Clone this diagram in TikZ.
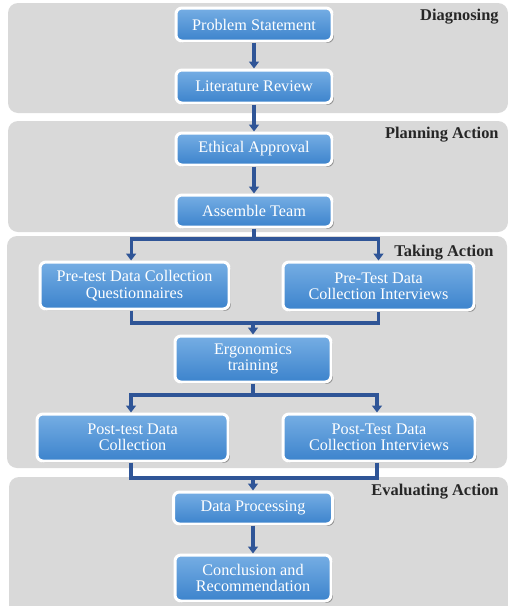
\documentclass[tikz,border=0pt]{standalone}
\usepackage{fontspec}
\setmainfont{Liberation Serif}
\usetikzlibrary{arrows.meta,shadows}
\definecolor{panelgray}{HTML}{D9D9D9}
\definecolor{boxtop}{HTML}{76AEE4}
\definecolor{boxbot}{HTML}{3C83CC}
\definecolor{arrowblue}{HTML}{2F5597}
\begin{document}
\begin{tikzpicture}[x=0.5pt,y=-0.5pt,
  panel/.style={fill=panelgray, rounded corners=5pt},
  stepbox/.style={draw=white, line width=1.5pt, rounded corners=3pt,
    top color=boxtop, bottom color=boxbot, text=white, align=center,
    font=\fontsize{8.1}{8.2}\selectfont, inner sep=1pt,
    drop shadow={shadow xshift=0.9pt, shadow yshift=-0.9pt, fill=black, opacity=0.35}},
  phase/.style={font=\bfseries\fontsize{8.2}{9}\selectfont, anchor=east, inner sep=0pt, text=black!85},
  flow/.style={draw=arrowblue, line width=1.6pt, -{Triangle[width=5pt,length=3.5pt]}},
  link/.style={draw=arrowblue, line width=1.6pt}]
\clip (0,0) rectangle (508,606);
% panels
\fill[panel] (8,3) rectangle (508,113);
\fill[panel] (8,121) rectangle (508,232);
\fill[panel] (7,236) rectangle (507,468);
\fill[panel] (9,477) rectangle (508,625);
% phase labels
\node[phase] (l1) at (499,17) {Diagnosing};
\node[phase] (l2) at (499,135) {Planning Action};
\node[phase] (l3) at (494,253) {Taking Action};
\node[phase] (l4) at (499,492) {Evaluating Action};
% boxes
\node[stepbox, minimum width=78pt, minimum height=16.5pt] (ps) at (254,24.5) {Problem Statement};
\node[stepbox, minimum width=78pt, minimum height=16.5pt] (lr) at (254,86.5) {Literature Review};
\node[stepbox, minimum width=78pt, minimum height=16pt] (ea) at (254,149) {Ethical Approval};
\node[stepbox, minimum width=78pt, minimum height=16pt] (at) at (254,211) {Assemble Team};
\node[stepbox, minimum width=94.5pt, minimum height=23.5pt] (pq) at (134.5,285.5) {Pre-test Data Collection\\Questionnaires};
\node[stepbox, minimum width=95.5pt, minimum height=24pt] (pi) at (378.5,286) {Pre-Test Data\\Collection Interviews};
\node[stepbox, minimum width=78pt, minimum height=23pt] (et) at (253,359) {Ergonomics\\training};
\node[stepbox, minimum width=95.5pt, minimum height=23.5pt] (pd) at (132.5,437.5) {Post-test Data\\Collection};
\node[stepbox, minimum width=96pt, minimum height=23.5pt] (pdi) at (379,437.5) {Post-Test Data\\Collection Interviews};
\node[stepbox, minimum width=79.5pt, minimum height=16pt] (dp) at (253,508) {Data Processing};
\node[stepbox, minimum width=78pt, minimum height=23pt] (cr) at (253,578) {Conclusion and\\Recommendation};
% junctions
\coordinate (j1) at (254,239);
\coordinate (j2) at (253,323);
\coordinate (j3) at (253,395);
\coordinate (j4) at (253,478);
% connectors
\draw[flow] (ps) -- (lr);
\draw[flow] (lr) -- (ea);
\draw[flow] (ea) -- (at);
\draw[link] (at) -- (j1);
\draw[flow] (j1) -| ([xshift=-1.7pt]pq.north);
\draw[flow] (j1) -| (pi.north);
\draw[link] ([xshift=-1.7pt]pq.south) |- (j2);
\draw[link] (pi.south) |- (j2);
\draw[flow] (j2) -- (et);
\draw[link] (et) -- (j3);
\draw[flow] (j3) -| ([xshift=-0.75pt]pd.north);
\draw[flow] (j3) -| ([xshift=-1pt]pdi.north);
\draw[link] ([xshift=-0.75pt]pd.south) |- (j4);
\draw[link] ([xshift=-1pt]pdi.south) |- (j4);
\draw[flow] (j4) -- (dp);
\draw[flow] (dp) -- (cr);
\end{tikzpicture}
\end{document}
